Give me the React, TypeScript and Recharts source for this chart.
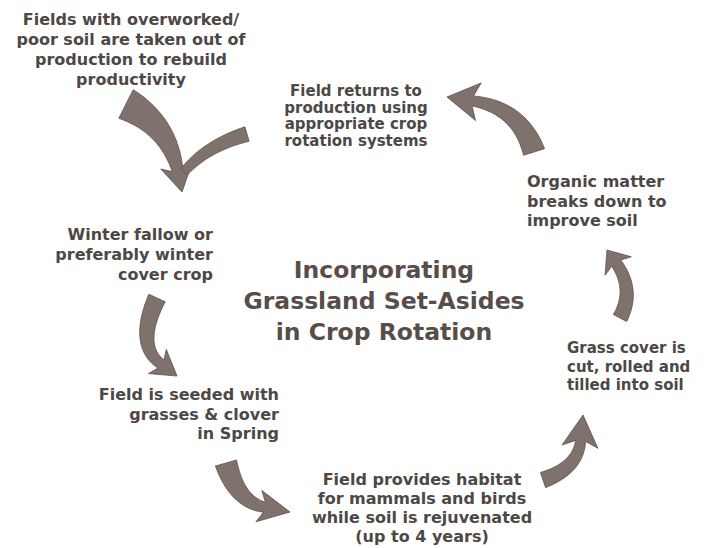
import React from "react";
import { ScatterChart, Scatter, XAxis, YAxis } from "recharts";

// Plot space is the picture itself: x 0..712, y 0..548 (y grows downward)
const retireText = ["Fields with overworked/", "poor soil are taken out of", "production to rebuild", "productivity"];
const returnText = ["Field returns to", "production using", "appropriate crop", "rotation systems"];
const organicText = ["Organic matter", "breaks down to", "improve soil"];
const winterText = ["Winter fallow or", "preferably winter", "cover crop"];
const seededText = ["Field is seeded with", "grasses & clover", "in Spring"];
const habitatText = ["Field provides habitat", "for mammals and birds", "while soil is rejuvenated", "(up to 4 years)"];
const grassText = ["Grass cover is", "cut, rolled and", "tilled into soil"];
const titleText = ["Incorporating", "Grassland Set-Asides", "in Crop Rotation"];

// anchor = baseline of the first line
const notes = [
  { id: "retire", x: 131, y: 25, lines: retireText },
  { id: "return", x: 356, y: 96, lines: returnText },
  { id: "organic", x: 527, y: 187, lines: organicText },
  { id: "winter", x: 213, y: 240, lines: winterText },
  { id: "seeded", x: 279, y: 400, lines: seededText },
  { id: "habitat", x: 422, y: 485, lines: habitatText },
  { id: "grass", x: 567, y: 353, lines: grassText },
  { id: "title", x: 384, y: 278, lines: titleText },
];

// tail, bend (bezier control), tip
const retireArrowA = [{ x: 126, y: 104 }, { x: 168, y: 125 }, { x: 182, y: 192 }];
const retireArrowB = [{ x: 247, y: 134 }, { x: 206, y: 146 }, { x: 184, y: 172 }];
const returnArrow = [{ x: 534, y: 152 }, { x: 520, y: 108 }, { x: 447, y: 97 }];
const organicArrow = [{ x: 620, y: 318 }, { x: 635, y: 290 }, { x: 607, y: 250 }];
const winterArrow = [{ x: 157, y: 298 }, { x: 135, y: 345 }, { x: 177, y: 376 }];
const seededArrow = [{ x: 226, y: 463 }, { x: 237, y: 502 }, { x: 290, y: 512 }];
const habitatArrow = [{ x: 543, y: 480 }, { x: 578, y: 468 }, { x: 583, y: 415 }];

const NOTE_STYLE: Record<string, { size: number; gap: number; anchor: string; color: string }> = {
  retire: { size: 16, gap: 20, anchor: "middle", color: "#4d4745" },
  return: { size: 15, gap: 16.7, anchor: "middle", color: "#4d4745" },
  organic: { size: 16, gap: 19.5, anchor: "start", color: "#4d4745" },
  winter: { size: 16, gap: 20, anchor: "end", color: "#4d4745" },
  seeded: { size: 16, gap: 19.5, anchor: "end", color: "#4d4745" },
  habitat: { size: 16, gap: 19, anchor: "middle", color: "#4d4745" },
  grass: { size: 15, gap: 18.5, anchor: "start", color: "#4d4745" },
  title: { size: 23.5, gap: 31, anchor: "middle", color: "#574d49" },
};

const arrows = [
  { id: "retireA", pts: retireArrowA, tailW: 32, neckW: 11, headW: 32, headL: 22 },
  { id: "retireB", pts: retireArrowB, tailW: 15, neckW: 9, headW: 0, headL: 0 },
  { id: "return", pts: returnArrow, tailW: 22, neckW: 10, headW: 38, headL: 26 },
  { id: "organic", pts: organicArrow, tailW: 15, neckW: 11, headW: 32, headL: 16 },
  { id: "winter", pts: winterArrow, tailW: 18, neckW: 10, headW: 30, headL: 20 },
  { id: "seeded", pts: seededArrow, tailW: 22, neckW: 10, headW: 32, headL: 26 },
  { id: "habitat", pts: habitatArrow, tailW: 16, neckW: 10, headW: 36, headL: 26 },
];

const FONT = "'DejaVu Sans', Verdana, sans-serif";

const TaperedArrow = (props: any) => {
  const { points, tailW, neckW, headW, headL } = props;
  if (!points || points.length < 3) return null;
  const [p0, p1, p2] = points;
  const dl = Math.hypot(p2.x - p1.x, p2.y - p1.y) || 1;
  const ux = (p2.x - p1.x) / dl;
  const uy = (p2.y - p1.y) / dl;
  const base = headL > 0 ? { x: p2.x - ux * headL, y: p2.y - uy * headL } : p2;
  const N = 36;
  const left: number[][] = [];
  const right: number[][] = [];
  for (let i = 0; i <= N; i++) {
    const t = i / N;
    const a = (1 - t) * (1 - t), b = 2 * (1 - t) * t, c = t * t;
    const x = a * p0.x + b * p1.x + c * base.x;
    const y = a * p0.y + b * p1.y + c * base.y;
    const tx = 2 * (1 - t) * (p1.x - p0.x) + 2 * t * (base.x - p1.x);
    const ty = 2 * (1 - t) * (p1.y - p0.y) + 2 * t * (base.y - p1.y);
    const tl = Math.hypot(tx, ty) || 1;
    const nx = -ty / tl, ny = tx / tl;
    const w = (tailW + (neckW - tailW) * t) / 2;
    left.push([x + nx * w, y + ny * w]);
    right.push([x - nx * w, y - ny * w]);
  }
  const f = (p: number[]) => `${p[0].toFixed(1)},${p[1].toFixed(1)}`;
  let d = `M${f(left[0])}`;
  left.slice(1).forEach((p) => (d += ` L${f(p)}`));
  if (headL > 0) {
    const nx = -uy, ny = ux;
    const back = headL * 0.22;
    d += ` L${f([base.x + nx * headW / 2 - ux * back, base.y + ny * headW / 2 - uy * back])}`;
    d += ` L${f([p2.x, p2.y])}`;
    d += ` L${f([base.x - nx * headW / 2 - ux * back, base.y - ny * headW / 2 - uy * back])}`;
  }
  right.slice().reverse().forEach((p) => (d += ` L${f(p)}`));
  d += " Z";
  return <path d={d} fill="#7f726d" stroke="#5b504c" strokeWidth={0.8} strokeLinejoin="miter" />;
};

const NoteText = (props: any) => {
  const { cx, cy, payload } = props;
  const s = NOTE_STYLE[payload.id];
  return (
    <text
      textAnchor={s.anchor as any}
      fontFamily={FONT}
      fontWeight="bold"
      fontSize={s.size}
      fill={s.color}
    >
      {payload.lines.map((line: string, i: number) => (
        <tspan key={i} x={cx} y={cy + i * s.gap}>
          {line}
        </tspan>
      ))}
    </text>
  );
};

export default function App() {
  return (
    <div style={{ width: 712, height: 548, background: "#fff" }}>
      <style>{"body{margin:0}"}</style>
      <ScatterChart width={712} height={548} margin={{ top: 0, right: 0, bottom: 0, left: 0 }}>
        <XAxis type="number" dataKey="x" domain={[0, 712]} hide />
        <YAxis type="number" dataKey="y" domain={[0, 548]} reversed hide />
        {arrows.map((a) => (
          <Scatter
            key={a.id}
            data={a.pts}
            isAnimationActive={false}
            shape={() => <g />}
            line={<TaperedArrow tailW={a.tailW} neckW={a.neckW} headW={a.headW} headL={a.headL} />}
            lineType="joint"
            legendType="none"
          />
        ))}
        <Scatter
          data={notes}
          isAnimationActive={false}
          shape={(p: any) => <NoteText {...p} />}
          legendType="none"
        />
      </ScatterChart>
    </div>
  );
}
